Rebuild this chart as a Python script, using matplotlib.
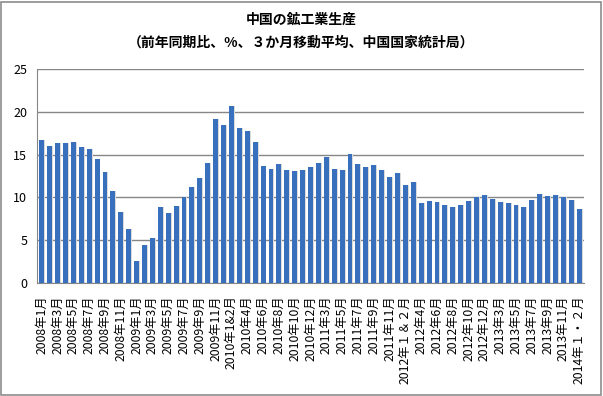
import matplotlib.pyplot as plt
from matplotlib.patches import Rectangle

plt.rcParams['font.family'] = ['Noto Sans CJK JP', 'DejaVu Sans']

# monthly labels (Jan & Feb combined from 2010 on)
months = (
    [f"2008年{m}月" for m in range(1, 13)]
    + [f"2009年{m}月" for m in range(1, 13)]
    + ["2010年1&2月"] + [f"2010年{m}月" for m in range(3, 13)]
    + ["2011年1&2月"] + [f"2011年{m}月" for m in range(3, 13)]
    + ["2012年１＆２月"] + [f"2012年{m}月" for m in range(3, 13)]
    + ["2013年１・２月"] + [f"2013年{m}月" for m in range(3, 13)]
    + ["2014年１・２月"]
)
values = [
    16.7, 16.0, 16.3, 16.3, 16.5, 15.9, 15.6, 14.5, 13.0, 10.8, 8.3, 6.3,
    2.6, 4.4, 5.3, 8.9, 8.2, 9.0, 10.1, 11.2, 12.3, 14.0, 19.2, 18.5,
    20.7, 18.1, 17.8, 16.5, 13.7, 13.3, 13.9, 13.2, 13.1, 13.2, 13.5,
    14.0, 14.7, 13.3, 13.2, 15.1, 13.9, 13.5, 13.8, 13.2, 12.4, 12.8,
    11.4, 11.8, 9.3, 9.6, 9.5, 9.1, 8.9, 9.1, 9.6, 10.1, 10.3,
    9.8, 9.5, 9.4, 9.1, 8.9, 9.7, 10.4, 10.2, 10.3, 10.0, 9.7,
    8.6,
]
yticks = [0, 5, 10, 15, 20, 25]

fig = plt.figure(figsize=(6.03, 3.96), dpi=100)
fig.patch.set_facecolor("white")
fig.patches.append(Rectangle((0.002, 0.003), 0.994, 0.993, transform=fig.transFigure,
                             fill=False, ec="#8C8C8C", lw=1.2))
ax = fig.add_axes([37 / 603, 1 - 283 / 396, 547 / 603, 214 / 396])

x = list(range(len(values)))
# soft shadow to the right of each bar, then the bar itself
ax.bar([i + 0.12 for i in x], values, width=0.62, color="#DADADA", zorder=2)
ax.bar(x, values, width=0.62, color="#3870BD", zorder=3)

ax.set_xlim(-0.6, len(values) - 0.4)
ax.set_ylim(0, 25)
ax.set_yticks(yticks)
ax.set_yticklabels([str(t) for t in yticks], fontsize=9)
ax.grid(axis="y", color="#868686", lw=1, zorder=1)
ax.set_xticks(x[::2])
ax.set_xticklabels(months[::2], rotation=90, fontsize=8.8, va="top", ha="center")
ax.tick_params(length=0, pad=7)
ax.tick_params(axis="x", pad=9)
for s in ["top", "right"]:
    ax.spines[s].set_visible(False)
for s in ["left", "bottom"]:
    ax.spines[s].set_color("#868686")

fig.text(0.5, 1 - 20 / 396, "中国の鉱工業生産", ha="center", va="center",
         fontsize=10, fontweight="bold")
fig.text(0.5, 1 - 43 / 396, "（前年同期比、%、３か月移動平均、中国国家統計局）",
         ha="center", va="center", fontsize=10, fontweight="bold")

fig.savefig("out.png", dpi=100, facecolor="white")
